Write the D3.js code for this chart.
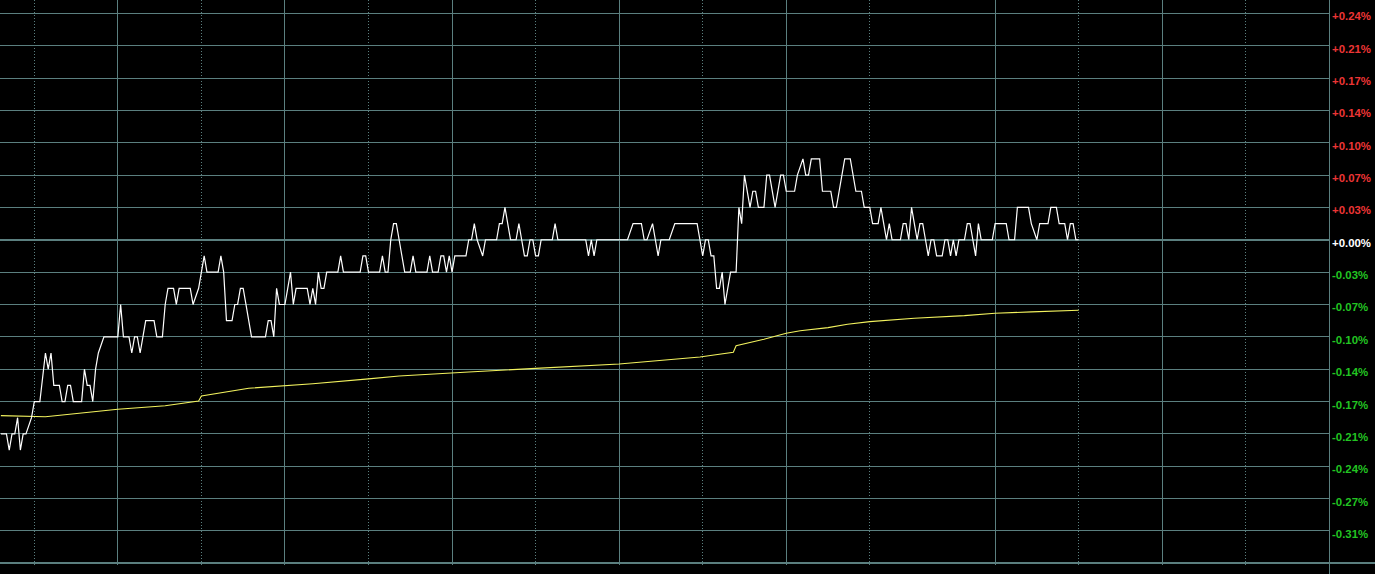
<!DOCTYPE html>
<html><head><meta charset="utf-8">
<script src="https://cdn.jsdelivr.net/npm/d3@7"></script>
<style>html,body{margin:0;padding:0;background:#000;overflow:hidden}</style>
</head><body><svg id="c" width="1375" height="574"></svg>
<script>
// ---- data (price in ticks relative to previous close, time in minutes) ----
const gridTicks = [14,12,10,8,6,4,2,0,-2,-4,-6,-8,-10,-12,-14,-16,-18];
const tickLabels = ["+0.24%","+0.21%","+0.17%","+0.14%","+0.10%","+0.07%","+0.03%","+0.00%",
  "-0.03%","-0.07%","-0.10%","-0.14%","-0.17%","-0.21%","-0.24%","-0.27%","-0.31%"];
const solidMinutes = [30,90,150,210,270,345,405];
const dottedMinutes = [0,60,120,180,240,300,375,435];

const priceMinute = [-12,-10,-9,-8,-7,-6,-5,-4,-3,-1,0,2,4,5,6,7,9,10,11,12,13,14,17,18,19,20,21,22,23,25,30,31,32,34,35,36,37,38,39,40,43,44,46,47,48,50,51,52,56,57,59,60,61,62,66,67,68,69,71,72,73,74,75,76,77,78,83,84,85,86,87,88,90,91,92,93,94,98,99,100,101,102,103,104,105,109,110,111,117,118,119,120,124,125,126,127,128,129,130,131,133,135,136,137,141,142,143,145,146,147,148,149,150,151,155,156,157,158,159,161,162,166,167,168,169,170,171,173,174,175,176,177,178,179,180,181,182,186,187,188,198,199,200,201,202,213,215,218,219,220,222,223,224,225,228,230,238,239,240,241,242,243,244,245,246,247,248,249,250,252,253,254,255,257,258,259,260,262,263,264,266,268,269,270,273,274,276,277,278,279,282,283,286,287,288,291,293,295,297,298,300,301,303,304,305,306,307,308,311,312,313,314,315,316,317,318,319,320,321,322,323,324,326,327,328,329,330,331,332,334,335,336,337,338,339,340,344,345,349,350,352,353,357,358,360,361,364,365,367,368,370,371,372,373,374,375];
const priceTicks = [-12,-12,-13,-12,-12,-11,-13,-12,-12,-11,-10,-10,-7,-8,-7,-9,-9,-10,-10,-9,-9,-10,-10,-8,-9,-9,-10,-8,-7,-6,-6,-4,-6,-6,-7,-6,-6,-7,-6,-5,-5,-6,-6,-4,-3,-3,-4,-3,-3,-4,-3,-2,-1,-2,-2,-1,-2,-5,-5,-4,-4,-3,-3,-4,-5,-6,-6,-5,-5,-6,-3,-4,-4,-3,-2,-4,-3,-3,-4,-3,-4,-2,-3,-3,-2,-2,-1,-2,-2,-1,-1,-2,-2,-1,-2,-2,0,1,1,0,-2,-2,-1,-2,-2,-1,-2,-2,-1,-1,-2,-1,-2,-1,-1,0,0,1,0,-1,0,0,1,1,2,1,0,0,1,0,-1,-1,0,0,-1,-1,0,0,1,0,0,-1,0,-1,0,0,1,1,0,0,1,0,-1,0,0,1,1,0,-1,0,0,-1,-1,-3,-3,-2,-4,-3,-2,-2,2,1,4,2,3,3,2,2,4,4,2,4,4,3,3,4,5,4,4,5,5,3,3,2,2,5,5,3,3,2,2,1,1,2,1,0,1,0,0,1,1,0,2,1,0,1,1,0,-1,0,0,-1,-1,0,0,-1,0,-1,0,0,1,1,0,-1,1,0,0,1,1,0,0,2,2,1,0,1,1,2,2,1,1,0,1,1,0,0];

const avgMinute = [-12,4,30,47,59,60,77,100,120,131,156,180,210,239,251,252,262,270,275,285,292,300,316,334,345,358,375];
const avgTicks = [-10.87,-10.94,-10.48,-10.26,-9.97,-9.66,-9.18,-8.9,-8.6,-8.42,-8.17,-7.95,-7.68,-7.25,-6.95,-6.55,-6.15,-5.78,-5.62,-5.43,-5.22,-5.06,-4.85,-4.69,-4.54,-4.46,-4.36];

// ---- drawing ----
const W = 1375, H = 574, plotRight = 1329.3;
const svg = d3.select("#c");
svg.append("rect").attr("width", W).attr("height", H).attr("fill", "#000");

const x = d3.scaleLinear().domain([0, 465]).range([34.3, plotRight]);
const y = d3.scaleLinear().domain([-20, 14]).range([563.3, 13.3]);
const gridColor = "#5b7f7f";

const g = svg.append("g").attr("shape-rendering", "crispEdges");
// horizontal grid
g.selectAll("line.h").data(gridTicks).join("line")
  .attr("x1", 0).attr("x2", plotRight)
  .attr("y1", d => y(d)).attr("y2", d => y(d))
  .attr("stroke", gridColor).attr("stroke-width", d => d === 0 ? 2 : 1);
// bottom border
g.append("line").attr("x1", 0).attr("x2", W).attr("y1", y(-20)).attr("y2", y(-20))
  .attr("stroke", gridColor).attr("stroke-width", 2);
// vertical solid
g.selectAll("line.vs").data(solidMinutes).join("line")
  .attr("x1", d => x(d)).attr("x2", d => x(d)).attr("y1", 0).attr("y2", y(-20) + 2)
  .attr("stroke", gridColor).attr("stroke-width", 1);
// vertical dotted
g.selectAll("line.vd").data(dottedMinutes).join("line")
  .attr("x1", d => x(d)).attr("x2", d => x(d)).attr("y1", 0).attr("y2", y(-20) + 2)
  .attr("stroke", gridColor).attr("stroke-width", 1).attr("stroke-dasharray", "1,2");
// axis line
g.append("line").attr("x1", x(465)).attr("x2", x(465)).attr("y1", 0).attr("y2", H)
  .attr("stroke", gridColor).attr("stroke-width", 1);

// labels
svg.append("g").selectAll("text").data(gridTicks).join("text")
  .attr("x", 1332).attr("y", d => y(d) + 7)
  .attr("font-family", "'Liberation Sans', Arial, sans-serif")
  .attr("font-size", "11.4px").attr("font-weight", "bold")
  .attr("fill", d => d > 0 ? "#ec3535" : d < 0 ? "#22c422" : "#ffffff")
  .text((d, i) => tickLabels[i]);

// average line
const avgData = avgMinute.map((m, i) => [m, avgTicks[i]]);
svg.append("path").datum(avgData)
  .attr("d", d3.line().x(d => x(d[0])).y(d => y(d[1])))
  .attr("fill", "none").attr("stroke", "#f2f25e").attr("stroke-width", 1.1);

// price line
const priceData = priceMinute.map((m, i) => [m, priceTicks[i]]);
svg.append("path").datum(priceData)
  .attr("d", d3.line().x(d => x(d[0])).y(d => y(d[1])))
  .attr("fill", "none").attr("stroke", "#ffffff").attr("stroke-width", 1.2);
</script>
</body></html>
